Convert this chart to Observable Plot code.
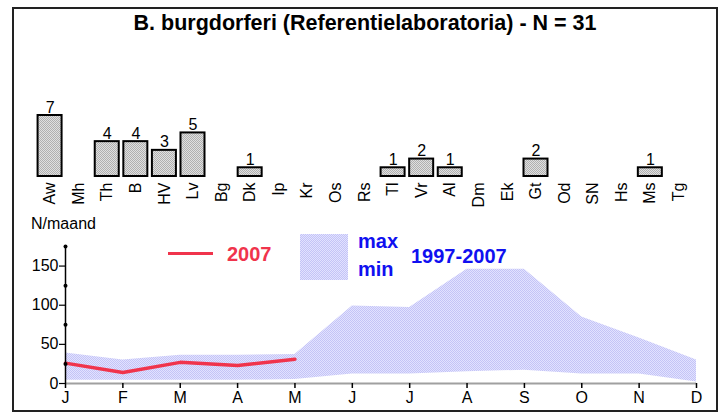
<!DOCTYPE html>
<html>
<head>
<meta charset="utf-8">
<script src="https://cdn.jsdelivr.net/npm/d3@7"></script>
<script src="https://cdn.jsdelivr.net/npm/@observablehq/plot@0.6"></script>
<style>
  html, body { margin: 0; padding: 0; background: #fff; }
  #wrap { position: relative; width: 724px; height: 414px; overflow: hidden; font-family: Arial, "Liberation Sans", sans-serif; background: #fff; }
  #frame { position: absolute; left: 12px; top: 7px; width: 702px; height: 401px; border: 2px solid #222; }
  .abs { position: absolute; white-space: nowrap; }
  #title { left: 0; width: 730px; top: 11px; text-align: center; font-weight: bold; font-size: 21.5px; color: #000; }
  #ylab { left: 31px; top: 215px; font-size: 16px; color: #000; }
  .leg { font-weight: bold; font-size: 20px; line-height: 20px; }
</style>
</head>
<body>
<div id="wrap">
  <div id="frame"></div>
  <div id="title" class="abs">B. burgdorferi (Referentielaboratoria) - N = 31</div>
  <div id="bars" class="abs" style="left:0;top:90px;"></div>
  <div id="ylab" class="abs">N/maand</div>
  <div id="lines" class="abs" style="left:0;top:230px;"></div>
  <div class="abs" style="left:168px;top:252px;width:45px;height:3px;background:#f0344c;"></div>
  <div class="abs leg" style="left:227px;top:244px;color:#f0344c;">2007</div>
  <div class="abs" style="left:300px;top:234px;width:48px;height:46px;background:repeating-conic-gradient(#c4c4f6 0 25%, #e2e2ff 0 50%) 0 0/2px 2px;"></div>
  <div class="abs leg" style="left:358px;top:231px;color:#1010f0;">max</div>
  <div class="abs leg" style="left:358px;top:259px;color:#1010f0;">min</div>
  <div class="abs leg" style="left:411px;top:246px;color:#1010f0;">1997-2007</div>
</div>
<script>
// ---- Data ----
const labs = ["Aw","Mh","Th","B","HV","Lv","Bg","Dk","Ip","Kr","Os","Rs","Tl","Vr","Al","Dm","Ek","Gt","Od","SN","Hs","Ms","Tg"];
const labCounts = [7,0,4,4,3,5,0,1,0,0,0,0,1,2,1,0,0,2,0,0,0,1,0];

const months = ["J","F","M","A","M","J","J","A","S","O","N","D"];
const maxVals = [39,30,36,36,37,99,97,146,146,85,58,30];
const minVals = [4,4,4,4,5,12,12,15,17,12,12,2];
const y2007 = [26,14,27,23,31];

const yTicks = [0,50,100,150];
const yMinor = [25,75,125,175];

// ---- helpers ----
function addPattern(svg, id, bg, dot) {
  const ns = "http://www.w3.org/2000/svg";
  const defs = document.createElementNS(ns, "defs");
  const p = document.createElementNS(ns, "pattern");
  p.setAttribute("id", id);
  p.setAttribute("width", "2");
  p.setAttribute("height", "2");
  p.setAttribute("patternUnits", "userSpaceOnUse");
  const r0 = document.createElementNS(ns, "rect");
  r0.setAttribute("width", "2"); r0.setAttribute("height", "2"); r0.setAttribute("fill", bg);
  p.appendChild(r0);
  for (const [x, y] of [[0,0],[1,1]]) {
    const r = document.createElementNS(ns, "rect");
    r.setAttribute("x", x); r.setAttribute("y", y);
    r.setAttribute("width", "1"); r.setAttribute("height", "1"); r.setAttribute("fill", dot);
    p.appendChild(r);
  }
  defs.appendChild(p);
  svg.insertBefore(defs, svg.firstChild);
}

// ---- Bar chart ----
const barData = labs.map((l, i) => ({lab: l, n: labCounts[i]}));
const barNZ = barData.filter(d => d.n > 0);

const bars = Plot.plot({
  width: 724,
  height: 120,
  marginTop: 25,
  marginBottom: 34,
  marginLeft: 33,
  marginRight: 29,
  style: {background: "transparent", overflow: "visible", fontFamily: "Arial, 'Liberation Sans', sans-serif", color: "#000"},
  x: {domain: labs, padding: 0.16, round: false},
  y: {domain: [0, 7], axis: null},
  marks: [
    Plot.barY(barNZ, {x: "lab", y: "n", fill: "url(#barpat)", stroke: "#000", strokeWidth: 2}),
    Plot.text(barNZ, {x: "lab", y: "n", text: d => String(d.n), dy: -3, lineAnchor: "bottom", fontSize: 16, fill: "#000"}),
    Plot.axisX({tickRotate: -90, tickSize: 0, tickPadding: 6, fontSize: 16, label: null})
  ]
});
addPattern(bars, "barpat", "#e0e0e0", "#b0b0b0");
document.getElementById("bars").appendChild(bars);

// ---- Line chart ----
const band = months.map((m, i) => ({i, lo: minVals[i], hi: maxVals[i]}));
const cur = y2007.map((v, i) => ({i, v}));

const lines = Plot.plot({
  width: 724,
  height: 180,
  marginTop: 16,
  marginBottom: 27,
  marginLeft: 65,
  marginRight: 28,
  style: {background: "transparent", overflow: "visible", fontFamily: "Arial, 'Liberation Sans', sans-serif", color: "#000"},
  x: {domain: [0, 11], axis: null},
  y: {domain: [0, 175], axis: null},
  marks: [
    Plot.areaY(band, {x: "i", y1: "lo", y2: "hi", fill: "url(#bandpat)"}),
    Plot.ruleY([0], {x1: 0, x2: 11, stroke: "#a0a0a0", strokeWidth: 2}),
    Plot.lineY(cur, {x: "i", y: "v", stroke: "#f0344c", strokeWidth: 3.5}),
    Plot.ruleX([0], {y1: 0, y2: 175, stroke: "#000", strokeWidth: 1.5}),
    Plot.dot(yMinor, {x: () => 0, y: d => d, r: 2, fill: "#000"}),
    Plot.axisY({ticks: yTicks, tickSize: 6, tickPadding: 1, fontSize: 16, label: null, strokeWidth: 1.2}),
    Plot.axisX({ticks: d3.range(12), tickFormat: i => months[i], tickSize: 5, tickPadding: 3, fontSize: 16, label: null, strokeWidth: 1.5})
  ]
});
addPattern(lines, "bandpat", "#e2e2ff", "#c4c4f6");
document.getElementById("lines").appendChild(lines);
</script>
</body>
</html>
